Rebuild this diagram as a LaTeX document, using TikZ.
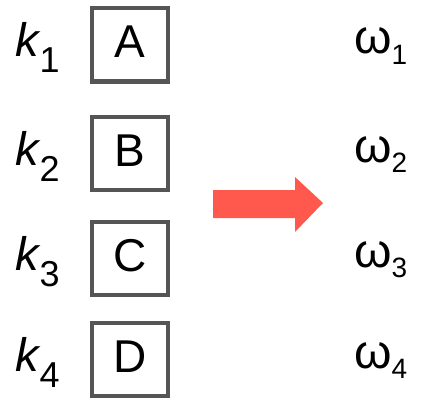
\documentclass[tikz,border=0pt]{standalone}
\usepackage{fontspec}
\setmainfont{Liberation Sans}
\definecolor{arrowred}{RGB}{255,88,77}
\definecolor{boxgray}{RGB}{85,85,85}

\begin{document}
\begin{tikzpicture}[x=1pt,y=1pt,
  letterbox/.style={draw=boxgray,line width=4pt,minimum width=76pt,minimum height=73pt,inner sep=0pt,
    text height=33pt,text depth=8pt,font=\fontsize{46}{46}\selectfont},
  keylabel/.style={anchor=base west,inner sep=0pt,font=\fontsize{47}{47}\selectfont},
  freqlabel/.style={anchor=base west,inner sep=0pt,font=\fontsize{48}{48}\selectfont}]
  \useasboundingbox (0,0) rectangle (423,-404);
  \foreach \n/\l/\y in {1/A/45,2/B/153.5,3/C/258.5,4/D/359.5} {
    \node[keylabel] (k\n) at (15,-\y-12) {\textit{k}\kern-1pt\raisebox{-16pt}{\fontsize{36}{36}\selectfont\n}};
    \node[letterbox] (box\l) at (130,-\y) {\l};
    \node[freqlabel] (w\n) at (354,-\y-9) {ω\raisebox{-10pt}{\fontsize{28}{28}\selectfont\n}};
  }
  % big arrow
  \fill[arrowred] (213,-190) -- (295,-190) -- (295,-177) -- (323,-203) -- (295,-232) -- (295,-218) -- (213,-218) -- cycle;
\end{tikzpicture}
\end{document}
